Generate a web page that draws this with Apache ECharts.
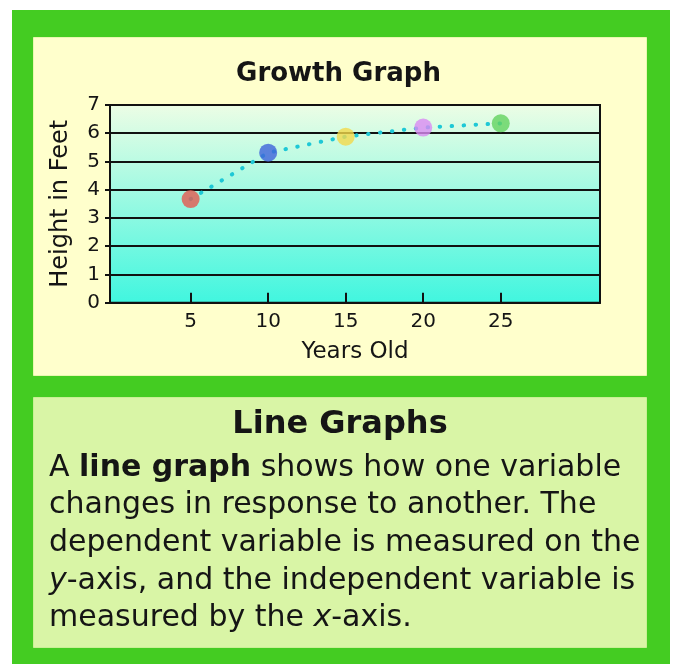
<!DOCTYPE html>
<html>
<head>
<meta charset="utf-8">
<script src="https://cdn.jsdelivr.net/npm/echarts@6/dist/echarts.min.js"></script>
<style>
html,body{margin:0;padding:0;background:#ffffff;}
#chart{width:677px;height:664px;}
</style>
</head>
<body>
<div id="chart"></div>
<script>
// ---- data ----
var chartTitle = 'Growth Graph';
var xAxisName = 'Years Old';
var yAxisName = 'Height in Feet';
var ages = [5, 10, 15, 20, 25];
var heights = [3.67, 5.31, 5.88, 6.2, 6.35];
var xTickValues = [5, 10, 15, 20, 25];
var markerColors = ['#e5594f', '#3f63d9', '#f2d84a', '#d98af2', '#63d25f'];
var boxTitle = 'Line Graphs';
var boxLines = [
  '{n|A }{b|line graph}{n| shows how one variable}',
  '{n|changes in response to another. The}',
  '{n|dependent variable is measured on the}',
  '{i|y}{n|-axis, and the independent variable is}',
  '{n|measured by the }{i|x}{n|-axis.}'
];

var FONT = '"DejaVu Sans", Verdana, sans-serif';
var chart = echarts.init(document.getElementById('chart'), null, {renderer: 'canvas'});

var seriesData = ages.map(function (a, i) {
  return {
    value: [a, heights[i]],
    itemStyle: {color: markerColors[i], opacity: 0.8}
  };
});

var rich = {
  n: {fontFamily: FONT, fontSize: 30, color: '#151515'},
  b: {fontFamily: FONT, fontSize: 30, fontWeight: 'bold', color: '#151515'},
  i: {fontFamily: FONT, fontSize: 30, fontStyle: 'italic', color: '#151515'}
};

var graphics = [
  {type: 'rect', z: -10, shape: {x: 12, y: 10, width: 658, height: 654}, style: {fill: '#44cc22'}},
  {type: 'rect', z: -9, shape: {x: 33.5, y: 37.5, width: 613, height: 338}, style: {fill: '#ffffcc', stroke: '#e9f7b0', lineWidth: 1}},
  {type: 'rect', z: -9, shape: {x: 33.5, y: 397.5, width: 613, height: 250}, style: {fill: '#d9f5a6', stroke: '#c9ef95', lineWidth: 1}},
  {type: 'text', z: 10, x: 340, y: 425, style: {text: boxTitle, font: 'bold 32px ' + FONT, fill: '#151515', align: 'center', verticalAlign: 'middle'}}
];
boxLines.forEach(function (line, i) {
  graphics.push({
    type: 'text', z: 10, x: 49, y: 468 + i * 37.6,
    style: {text: line, rich: rich, align: 'left', verticalAlign: 'middle', fill: '#151515'}
  });
});

var option = {
  backgroundColor: '#ffffff',
  animation: false,
  title: {
    text: chartTitle, left: 'center', top: 56,
    textStyle: {fontFamily: FONT, fontSize: 26, fontWeight: 'bold', color: '#151515'}
  },
  graphic: graphics,
  grid: {
    left: 110, top: 105, width: 490, height: 197.7,
    show: true, borderColor: '#111', borderWidth: 2,
    containLabel: false, outerBoundsMode: 'none',
    backgroundColor: {
      type: 'linear', x: 0, y: 0, x2: 0, y2: 1,
      colorStops: [{offset: 0, color: '#edfde5'}, {offset: 1, color: '#40f6df'}]
    }
  },
  xAxis: {
    type: 'value', min: -0.2, max: 31.4,
    name: xAxisName, nameLocation: 'middle', nameGap: 38,
    nameTextStyle: {fontFamily: FONT, fontSize: 23, color: '#151515'},
    axisLine: {show: true, onZero: false, lineStyle: {color: '#111', width: 2}},
    axisTick: {show: true, inside: true, length: 10, customValues: xTickValues, lineStyle: {color: '#111', width: 2}},
    axisLabel: {show: true, customValues: xTickValues, margin: 9, fontFamily: FONT, fontSize: 20, color: '#151515'},
    splitLine: {show: false}
  },
  yAxis: {
    type: 'value', min: 0, max: 7, interval: 1,
    name: yAxisName, nameLocation: 'middle', nameGap: 37, nameRotate: 90,
    nameTextStyle: {fontFamily: FONT, fontSize: 24, color: '#151515'},
    axisLine: {show: true, onZero: false, lineStyle: {color: '#111', width: 2}},
    axisTick: {show: true, inside: false, length: 5, lineStyle: {color: '#111', width: 2}},
    axisLabel: {show: true, margin: 10, fontFamily: FONT, fontSize: 20, color: '#151515'},
    splitLine: {show: true, lineStyle: {color: '#111', width: 2}}
  },
  series: [{
    type: 'line',
    data: seriesData,
    symbol: 'circle',
    symbolSize: 18,
    smooth: false,
    lineStyle: {color: '#1ec8d6', width: 4, type: [0.5, 11.5], cap: 'round'},
    z: 5
  }]
};
chart.setOption(option);
</script>
</body>
</html>
